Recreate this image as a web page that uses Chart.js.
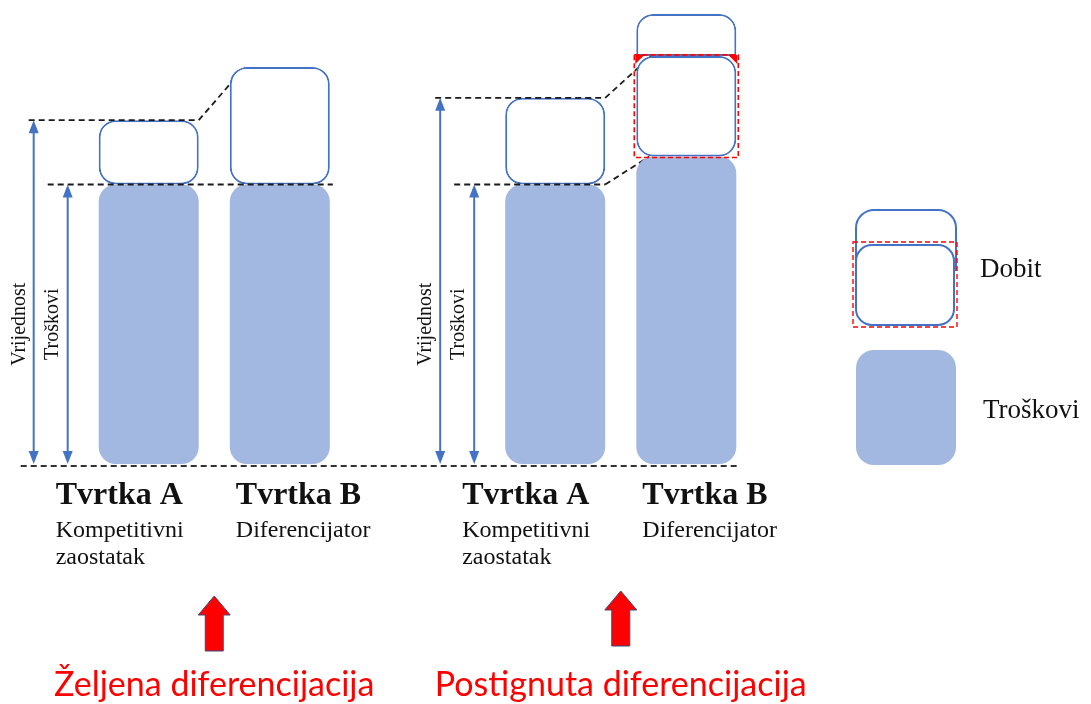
<!DOCTYPE html>
<html>
<head>
<meta charset="utf-8">
<script src="https://cdn.jsdelivr.net/npm/chart.js@4/dist/chart.umd.min.js"></script>
<style>
  html, body { margin: 0; padding: 0; background: #fff; }
  #wrap { position: relative; width: 1091px; height: 704px; }
</style>
</head>
<body>
<div id="wrap"><canvas id="myChart"></canvas></div>
<script>
// two scenarios, each one comparing two firms
const groups = ['Željena diferencijacija', 'Postignuta diferencijacija'];
const firms = ['Tvrtka A', 'Tvrtka B'];
const firmNotes = [['Kompetitivni', 'zaostatak'], ['Diferencijator']];

// values (costs of firm A = 100)
const costsA = [100, 100];
const profitA = [23, 31];
const costsB = [100, 110];
const profitB = [42, 36];
const extraProfitB = [null, 15];

const BLUE = '#4472C4';
const FILL = '#A2B8E0';
const RED = '#FF0000';
const SERIF = '"Liberation Serif", "Times New Roman", serif';

function radius(r) {
    return { topLeft: r, topRight: r, bottomLeft: r, bottomRight: r };
}

function arrowHead(ctx, x, y, dir) {
    // dir = -1 points up, 1 points down
    ctx.beginPath();
    ctx.moveTo(x, y);
    ctx.lineTo(x - 5, y - dir * 13);
    ctx.lineTo(x + 5, y - dir * 13);
    ctx.closePath();
    ctx.fill();
}

function dashed(ctx, pts, color) {
    ctx.save();
    ctx.strokeStyle = color || '#1a1a1a';
    ctx.lineWidth = 1.8;
    ctx.setLineDash([6, 4]);
    ctx.beginPath();
    ctx.moveTo(pts[0][0], pts[0][1]);
    for (let i = 1; i < pts.length; i++) ctx.lineTo(pts[i][0], pts[i][1]);
    ctx.stroke();
    ctx.restore();
}

function barsOf(chart, j) {
    const m = i => chart.getDatasetMeta(i).data[j];
    return { aCost: m(0), aProfit: m(1), bCost: m(2), bProfit: m(3), bExtra: m(4) };
}

function edges(el) {
    return [el.x - el.width / 2, el.x + el.width / 2];
}

const diagramPlugin = {
    id: 'diagram',
    beforeDatasetsDraw(chart) {
        // slanted guides go under the boxes
        const ctx = chart.ctx;
        groups.forEach((g, j) => {
            const b = barsOf(chart, j);
            const aRight = edges(b.aCost)[1];
            const bLeft = edges(b.bCost)[0];
            dashed(ctx, [[aRight, b.aProfit.y], [bLeft + 15, b.bProfit.y]]);
            if (Math.abs(b.bCost.y - b.aCost.y) >= 1) {
                dashed(ctx, [[aRight, b.aCost.y], [bLeft + 13, b.bCost.y]]);
            }
        });
    },
    afterDatasetsDraw(chart) {
        const ctx = chart.ctx;
        const zero = chart.scales.y.getPixelForValue(0);

        groups.forEach((g, j) => {
            const b = barsOf(chart, j);
            const [aLeft, aRight] = edges(b.aCost);
            const [bLeft, bRight] = edges(b.bCost);
            const vx = aLeft - 65;
            const tx = aLeft - 31;

            // red dashed frame round the profit that was reached
            if (extraProfitB[j] != null) {
                const p = b.bProfit;
                ctx.save();
                ctx.fillStyle = RED;
                [[bLeft, 1], [bRight, -1]].forEach(([cx, s]) => {
                    ctx.beginPath();
                    ctx.moveTo(cx - s, p.y - 1);
                    ctx.lineTo(cx + s * 8, p.y - 1);
                    ctx.lineTo(cx - s, p.y + 8);
                    ctx.closePath();
                    ctx.fill();
                });
                ctx.strokeStyle = RED;
                ctx.lineWidth = 1.6;
                ctx.setLineDash([5, 3]);
                ctx.strokeRect(bLeft - 2, p.y - 1, bRight - bLeft + 4, p.base - p.y + 2);
                ctx.restore();
            }

            // level guides
            dashed(ctx, [[vx - 5, b.aProfit.y], [aRight, b.aProfit.y]]);
            const midEnd = Math.abs(b.bCost.y - b.aCost.y) < 1 ? bRight + 3 : aRight;
            dashed(ctx, [[tx - 20, b.aCost.y], [midEnd, b.aCost.y]]);

            // value / cost arrows
            ctx.save();
            ctx.strokeStyle = BLUE;
            ctx.fillStyle = BLUE;
            ctx.lineWidth = 2;
            [[vx, b.aProfit.y], [tx, b.aCost.y]].forEach(([x, top]) => {
                ctx.beginPath();
                ctx.moveTo(x, top + 6);
                ctx.lineTo(x, zero - 6);
                ctx.stroke();
                arrowHead(ctx, x, top, -1);
                arrowHead(ctx, x, zero, 1);
            });
            ctx.restore();

            const midY = (zero + b.aCost.y) / 2;
            ctx.save();
            ctx.fillStyle = '#111';
            ctx.font = '20px ' + SERIF;
            ctx.textAlign = 'center';
            ctx.textBaseline = 'middle';
            [['Vrijednost', vx - 14], ['Troškovi', tx - 15]].forEach(([t, x]) => {
                ctx.save();
                ctx.translate(x, midY);
                ctx.rotate(-Math.PI / 2);
                ctx.fillText(t, 0, 0);
                ctx.restore();
            });
            ctx.restore();
        });

        // base line under all bars
        const first = barsOf(chart, 0), last = barsOf(chart, groups.length - 1);
        dashed(ctx, [[edges(first.aCost)[0] - 78, zero + 2],
                     [edges(last.bCost)[1] + 4, zero + 2]], '#333');
    },
    afterDraw(chart) {
        const ctx = chart.ctx;
        const xs = chart.scales.x;

        groups.forEach((g, j) => {
            const b = barsOf(chart, j);
            // firm names under the bars
            [[b.aCost.x - 93, 0], [b.bCost.x - 44, 1]].forEach(([x, k]) => {
                ctx.save();
                ctx.fillStyle = '#111';
                ctx.textAlign = 'left';
                ctx.textBaseline = 'alphabetic';
                ctx.font = 'bold 32px ' + SERIF;
                ctx.fillText(firms[k], x, 504);
                ctx.font = '24px ' + SERIF;
                firmNotes[k].forEach((line, n) => ctx.fillText(line, x, 537 + n * 27));
                ctx.restore();
            });

            // red arrow and caption
            const cx = xs.getPixelForValue(j);
            const tip = j === 0 ? 596 : 591;
            ctx.save();
            ctx.fillStyle = RED;
            ctx.strokeStyle = '#3B4A7A';
            ctx.lineWidth = 1;
            ctx.beginPath();
            ctx.moveTo(cx, tip);
            ctx.lineTo(cx + 16, tip + 19);
            ctx.lineTo(cx + 9, tip + 19);
            ctx.lineTo(cx + 9, tip + 55);
            ctx.lineTo(cx - 9, tip + 55);
            ctx.lineTo(cx - 9, tip + 19);
            ctx.lineTo(cx - 16, tip + 19);
            ctx.closePath();
            ctx.fill();
            ctx.stroke();
            ctx.font = '34px Lato, "Open Sans", sans-serif';
            ctx.textAlign = 'center';
            ctx.fillText(groups[j], cx, 696);
            ctx.restore();
        });

        // legend on the right
        ctx.save();
        ctx.lineWidth = 2;
        ctx.strokeStyle = BLUE;
        ctx.fillStyle = '#fff';
        ctx.beginPath();
        ctx.roundRect(856, 210, 100, 60, [18, 18, 0, 0]);
        ctx.fill();
        ctx.stroke();
        ctx.beginPath();
        ctx.roundRect(856, 245, 98, 80, 16);
        ctx.fill();
        ctx.stroke();
        ctx.strokeStyle = RED;
        ctx.lineWidth = 1.4;
        ctx.setLineDash([5, 3]);
        ctx.strokeRect(853, 242, 104, 85);
        ctx.setLineDash([]);
        ctx.fillStyle = FILL;
        ctx.beginPath();
        ctx.roundRect(856, 350, 100, 115, 18);
        ctx.fill();
        ctx.fillStyle = '#111';
        ctx.font = '27px ' + SERIF;
        ctx.textAlign = 'left';
        ctx.fillText('Dobit', 980, 277);
        ctx.fillText('Troškovi', 983, 418);
        ctx.restore();
    }
};

const profitStyle = {
    backgroundColor: '#fff',
    borderColor: BLUE,
    borderWidth: 2,
    borderSkipped: false,
    borderRadius: radius(17)
};
const costStyle = {
    backgroundColor: FILL,
    borderWidth: 0,
    borderSkipped: false,
    borderRadius: radius(17)
};

new Chart(document.getElementById('myChart'), {
    type: 'bar',
    data: {
        labels: groups,
        datasets: [
            Object.assign({ label: 'Troškovi', data: costsA, stack: 'A' }, costStyle),
            Object.assign({ label: 'Dobit', data: profitA, stack: 'A' }, profitStyle),
            Object.assign({ label: 'Troškovi', data: costsB, stack: 'B' }, costStyle),
            Object.assign({ label: 'Dobit', data: profitB, stack: 'B' }, profitStyle),
            Object.assign({ label: 'Dobit', data: extraProfitB, stack: 'B' }, profitStyle,
                { borderRadius: { topLeft: 17, topRight: 17, bottomLeft: 0, bottomRight: 0 } })
        ]
    },
    options: {
        responsive: true,
        maintainAspectRatio: false,
        animation: false,
        categoryPercentage: 0.645,
        barPercentage: 0.763,
        layout: { padding: { left: 11, right: 267, top: 0, bottom: 240 } },
        plugins: { legend: { display: false }, tooltip: { enabled: false } },
        scales: {
            x: { display: false, stacked: true },
            y: { display: false, stacked: true, min: 0, max: 166 }
        }
    },
    plugins: [diagramPlugin]
});
</script>
</body>
</html>
